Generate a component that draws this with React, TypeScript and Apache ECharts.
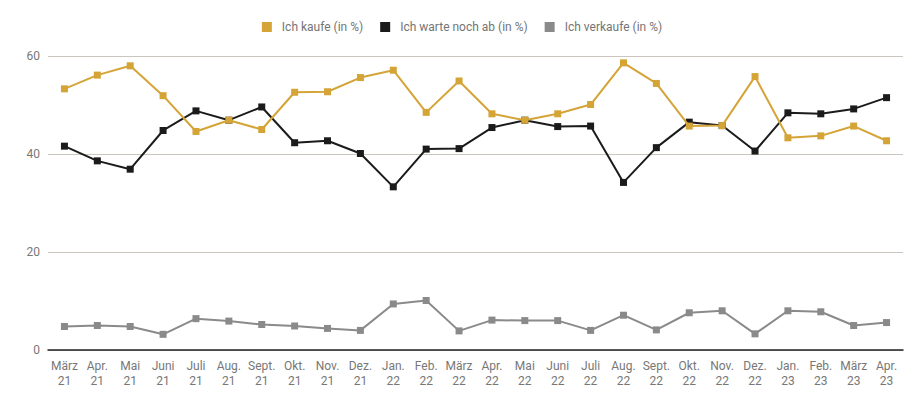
import React, { useEffect, useRef } from "react";
import * as echarts from "echarts";

const categories = [
  "März\n21", "Apr.\n21", "Mai\n21", "Juni\n21", "Juli\n21", "Aug.\n21", "Sept.\n21", "Okt.\n21", "Nov.\n21", "Dez.\n21",
  "Jan.\n22", "Feb.\n22", "März\n22", "Apr.\n22", "Mai\n22", "Juni\n22", "Juli\n22", "Aug.\n22", "Sept.\n22", "Okt.\n22", "Nov.\n22", "Dez.\n22",
  "Jan.\n23", "Feb.\n23", "März\n23", "Apr.\n23",
];

const kaufe = [53.3, 56.1, 58.0, 51.9, 44.6, 46.9, 45.0, 52.6, 52.7, 55.6, 57.1, 48.5, 54.9, 48.2, 46.9, 48.2, 50.1, 58.6, 54.4, 45.7, 45.8, 55.8, 43.3, 43.7, 45.7, 42.7];
const warte = [41.6, 38.6, 36.9, 44.8, 48.8, 46.9, 49.6, 42.3, 42.7, 40.1, 33.3, 41.0, 41.1, 45.4, 46.9, 45.6, 45.7, 34.2, 41.3, 46.5, 45.8, 40.6, 48.4, 48.2, 49.2, 51.5];
const verkaufe = [4.8, 5.0, 4.8, 3.2, 6.4, 5.9, 5.2, 4.9, 4.4, 4.0, 9.4, 10.1, 3.9, 6.1, 6.0, 6.0, 4.0, 7.1, 4.1, 7.6, 8.0, 3.3, 8.0, 7.8, 5.0, 5.6];

const seriesNames = ["Ich kaufe (in %)", "Ich warte noch ab (in %)", "Ich verkaufe (in %)"];
const colors = ["#d4a437", "#1b1b1b", "#8a8a8a"];

export default function App() {
  const ref = useRef<HTMLDivElement>(null);
  useEffect(() => {
    if (!ref.current) return;
    const chart = echarts.init(ref.current, undefined, { renderer: "svg" });
    const datasets = [kaufe, warte, verkaufe];
    chart.setOption({
      animation: false,
      textStyle: { fontFamily: "Roboto" },
      legend: {
        top: 8,
        left: "center",
        itemWidth: 10,
        itemHeight: 10,
        itemGap: 17,
        icon: "rect",
        textStyle: { color: "#757575", fontSize: 12, fontFamily: "Roboto", padding: [0, 0, 0, 5] },
        data: seriesNames,
      },
      grid: { left: 40, right: 13, top: 48, bottom: 49, containLabel: false },
      xAxis: {
        type: "category",
        data: categories,
        boundaryGap: true,
        axisLine: { lineStyle: { color: "#222", width: 1.5 } },
        axisTick: { show: false },
        axisLabel: { color: "#777", fontSize: 12, lineHeight: 15, margin: 8, interval: 0, fontFamily: "Roboto" },
      },
      yAxis: {
        type: "value",
        min: 0,
        max: 60,
        interval: 20,
        axisLine: { show: false },
        axisTick: { show: false },
        splitLine: { lineStyle: { color: "#cbc6bd", width: 1 } },
        axisLabel: { color: "#777", fontSize: 12, margin: 8, fontFamily: "Roboto" },
      },
      series: seriesNames.map((name, i) => ({
        name,
        type: "line",
        data: datasets[i],
        symbol: "rect",
        symbolSize: 7,
        lineStyle: { color: colors[i], width: 2 },
        itemStyle: { color: colors[i] },
        z: 3 - i,
      })),
    });
    return () => chart.dispose();
  }, []);
  return <div ref={ref} style={{ width: 908, height: 391 }} />;
}
